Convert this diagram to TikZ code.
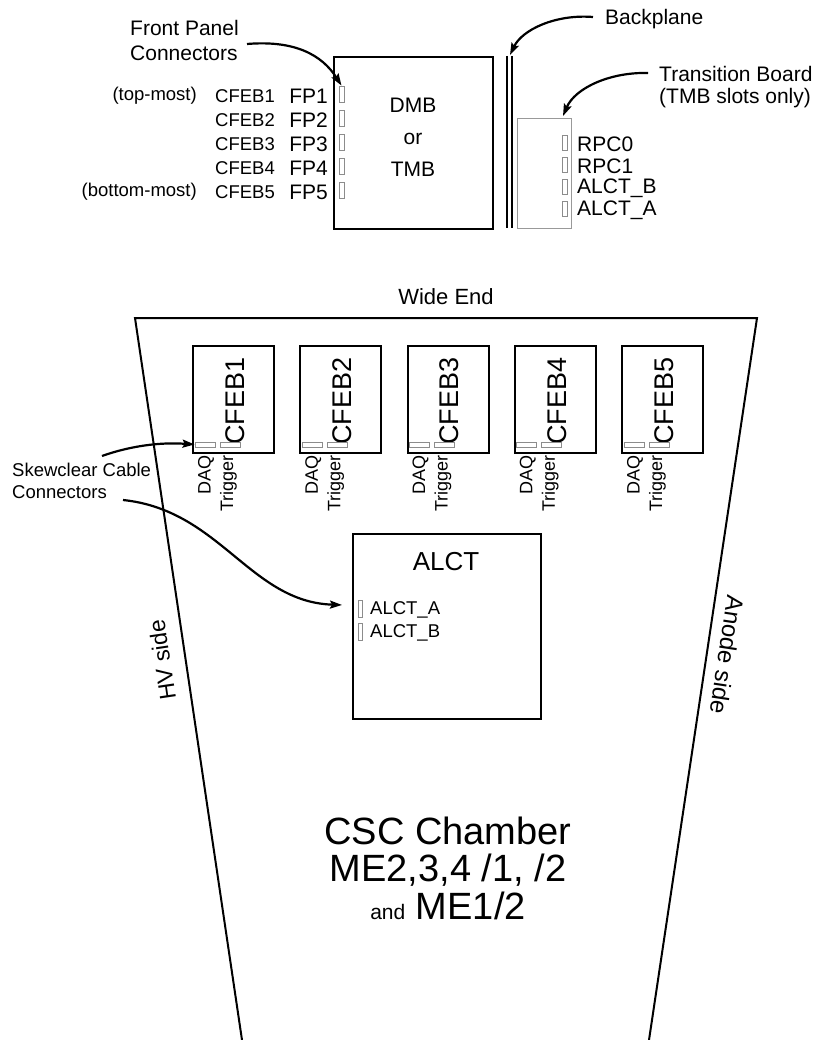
\documentclass[tikz,border=0pt]{standalone}
\usepackage{fontspec}
\setmainfont{Liberation Sans}
\usetikzlibrary{arrows.meta}
\begin{document}
\begin{tikzpicture}[x=1pt,y=-1pt,
  board/.style={draw, line width=2pt, inner sep=0pt},
  conn/.style={draw=black!45, line width=0.8pt, inner sep=0pt},
  lab/.style={inner sep=0pt, font=\fontsize{18.5}{22}\selectfont},
  mid/.style={inner sep=0pt, font=\fontsize{21}{25}\selectfont},
  arr/.style={line width=2.2pt, -{Stealth[length=12pt,width=8pt,inset=2pt]}},
  rlab/.style={inner sep=0pt, rotate=90, anchor=east, font=\fontsize{18}{20}\selectfont}
]
\useasboundingbox (0,0) rectangle (823,1040);

% ---------- DMB / TMB ----------
\node[board, anchor=north west, minimum width=159pt, minimum height=172pt] (dmb) at (333,56) {};
\node[mid, align=center, font=\fontsize{21}{32}\selectfont] (dmbt) at (413,137) {DMB\\or\\TMB};
\foreach \i in {1,...,5} {
  \pgfmathsetmacro\yy{96+24*(\i-1)}
  \node[lab, anchor=east] (cf\i) at (275,\yy) {CFEB\i};
  \node[mid, anchor=east] (fp\i) at (328,\yy) {FP\i};
  \node[conn, minimum width=5pt, minimum height=16pt] (fc\i) at (341.5,\yy-2) {};
}
\node[lab, anchor=east] (top) at (197,96) {(top-most)};
\node[lab, anchor=east] (bot) at (197,192) {(bottom-most)};
\node[mid, anchor=north west, align=left] (fpl) at (130,20) {Front Panel\\Connectors};
\coordinate (fpa) at (247,44);
\draw[arr] (fpa) .. controls (295,40) and (322,55) .. (fc1.north);

% ---------- Backplane ----------
\coordinate (bp1t) at (507,56); \coordinate (bp1b) at (507,228);
\coordinate (bp2t) at (512,56); \coordinate (bp2b) at (512,228);
\draw[line width=1.8pt] (bp1t) -- (bp1b);
\draw[line width=1.8pt] (bp2t) -- (bp2b);
\node[mid, anchor=west] (bpl) at (605,19) {Backplane};
\coordinate (bpa) at (593,17);
\draw[arr] (bpa) .. controls (555,14) and (522,30) .. (510,55);

% ---------- Transition board ----------
\node[draw=black!40, line width=0.8pt, anchor=north west, minimum width=54pt, minimum height=110pt, inner sep=0pt] (tb) at (517,118) {};
\foreach \n/\t [count=\k] in {r0/RPC0, r1/RPC1, ab/ALCT\_B, aa/ALCT\_A} {
  \pgfmathsetmacro\yy{143+22*(\k-1)}
  \node[conn, minimum width=4.5pt, minimum height=15pt] (tc\n) at (565,\yy) {};
  \node[mid, anchor=west] (tl\n) at (577,\yy+1) {\t};
}
\node[mid, anchor=west, align=left, font=\fontsize{21}{22}\selectfont] (tbl) at (659,87) {Transition Board\\(TMB slots only)};
\coordinate (tba) at (648,73);
\draw[arr] (tba) .. controls (610,72) and (575,88) .. (563,116);

% ---------- Chamber outline ----------
\coordinate (tl) at (135,318);
\coordinate (tr) at (757,318);
\coordinate (bl) at (242,1040);
\coordinate (br) at (649,1040);
\draw[line width=2pt, line join=miter] (bl) -- (tl) -- (tr) -- (br);
\node[mid, font=\fontsize{22}{24}\selectfont] (wide) at (446,297) {Wide End};
\node[inner sep=0pt, rotate=98.4, font=\fontsize{23}{24}\selectfont] (hv) at (162,660) {HV side};
\node[inner sep=0pt, rotate=-98.5, font=\fontsize{24}{24}\selectfont] (an) at (727,655) {Anode side};

% ---------- CFEBs ----------
\foreach \i in {1,...,5} {
  \pgfmathsetmacro\L{192+107.25*(\i-1)}
  \node[board, anchor=north west, minimum width=81pt, minimum height=107pt] (cfeb\i) at (\L,345) {};
  \node[inner sep=0pt, rotate=90, font=\fontsize{27}{27}\selectfont] (cft\i) at (\L+43,401) {CFEB\i};
  \node[conn, minimum width=20pt, minimum height=5pt] (daq\i) at (\L+13,444.5) {};
  \node[conn, minimum width=20pt, minimum height=5pt] (trg\i) at (\L+38,444.5) {};
  \node[rlab] (daqt\i) at (\L+14,455) {DAQ};
  \node[rlab] (trgt\i) at (\L+36.5,455) {Trigger};
}

% ---------- ALCT ----------
\node[board, anchor=north west, minimum width=188pt, minimum height=185pt] (alct) at (352,533) {};
\node[inner sep=0pt, font=\fontsize{26}{26}\selectfont] (alctt) at (446,562) {ALCT};
\node[conn, minimum width=4.5pt, minimum height=17pt] (aca) at (360.5,608.5) {};
\node[conn, minimum width=4.5pt, minimum height=17pt] (acb) at (360.5,632) {};
\node[lab, anchor=west] (ala) at (370,610) {ALCT\_A};
\node[lab, anchor=west] (alb) at (370,633) {ALCT\_B};

% ---------- Skewclear ----------
\node[lab, anchor=west, align=left] (skw) at (12,481) {Skewclear Cable\\Connectors};
\coordinate (sk1) at (102,456);
\coordinate (sk2) at (123,500);
\draw[arr] (sk1) .. controls (130,446) and (160,442) .. (daq1.west);
\draw[arr, shorten >=1pt] (sk2) .. controls (220,510) and (250,602) .. (343,605);

% ---------- Title ----------
\node[inner sep=0pt, align=center, font=\fontsize{38}{37.5}\selectfont] (csc) at (448,868)
  {CSC Chamber\\ME2,3,4 /1, /2\\{\fontsize{21}{37.5}\selectfont and} ME1/2};
\end{tikzpicture}
\end{document}
